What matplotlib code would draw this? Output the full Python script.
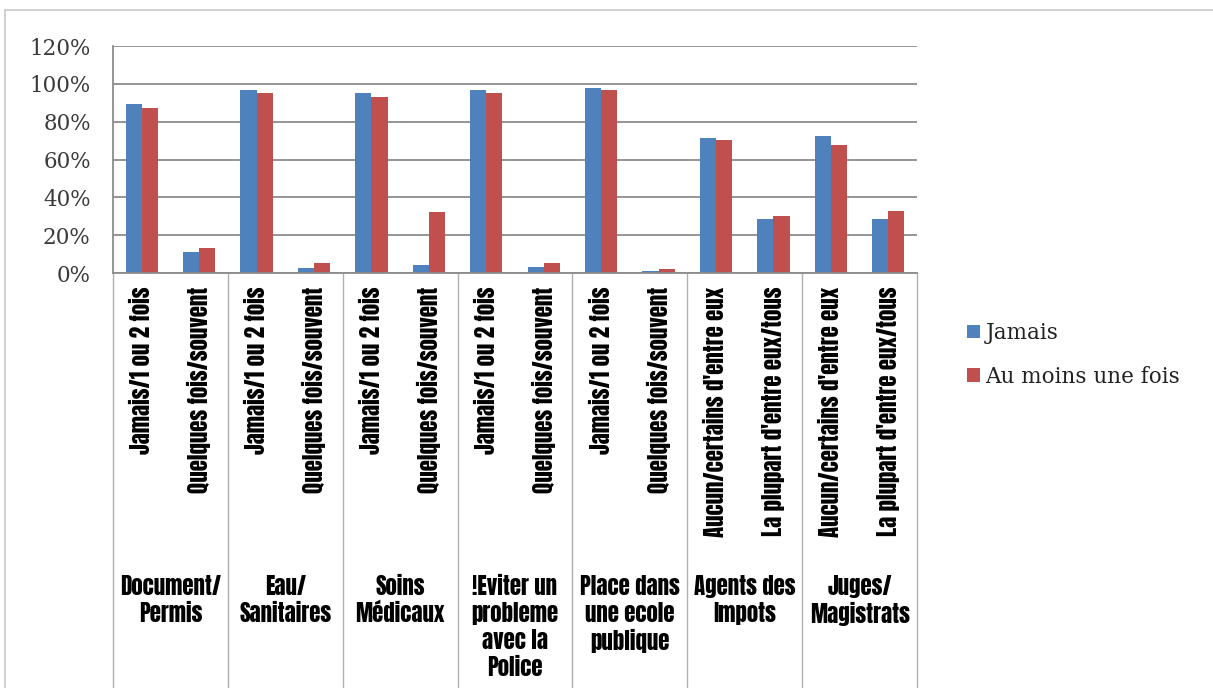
import matplotlib
matplotlib.use("Agg")
import matplotlib.pyplot as plt
import matplotlib.transforms as mtransforms
from matplotlib.patches import Rectangle
import numpy as np

groups = ["Document/\nPermis", "Eau/\nSanitaires", "Soins\nMédicaux",
          "!Eviter un\nprobleme\navec la\nPolice", "Place dans\nune ecole\npublique",
          "Agents des\nImpots", "Juges/\nMagistrats"]
categories = ["Jamais/1 ou 2 fois", "Quelques fois/souvent",
              "Jamais/1 ou 2 fois", "Quelques fois/souvent",
              "Jamais/1 ou 2 fois", "Quelques fois/souvent",
              "Jamais/1 ou 2 fois", "Quelques fois/souvent",
              "Jamais/1 ou 2 fois", "Quelques fois/souvent",
              "Aucun/certains d'entre eux", "La plupart d'entre eux/tous",
              "Aucun/certains d'entre eux", "La plupart d'entre eux/tous"]
jamais = [0.895, 0.11, 0.967, 0.028, 0.954, 0.04, 0.97, 0.033, 0.98, 0.012,
          0.716, 0.283, 0.725, 0.283]
au_moins = [0.87, 0.13, 0.95, 0.055, 0.93, 0.32, 0.95, 0.055, 0.97, 0.02,
            0.704, 0.302, 0.677, 0.328]
yticks = [0, 0.2, 0.4, 0.6, 0.8, 1.0, 1.2]
ytick_labels = ["0%", "20%", "40%", "60%", "80%", "100%", "120%"]
series_names = ["Jamais", "Au moins une fois"]

W, H = 1213, 688
fig = plt.figure(figsize=(W / 100, H / 100), dpi=100)
fig.patch.set_facecolor("white")

serif = ["DejaVu Serif", "Liberation Serif"]
heavy = ["Anton", "Oswald", "Roboto Condensed", "DejaVu Sans"]

# outer frame
fig.add_artist(Rectangle((5 / W, -0.1), 1.2, (H - 10) / H + 0.1, transform=fig.transFigure,
                         fill=False, edgecolor="#c8c8c8", linewidth=1.2))

ax = fig.add_axes([113 / W, (H - 273) / H, (917 - 113) / W, (273 - 46) / H])

x = np.arange(len(categories))
bw = 0.28
b1 = ax.bar(x - bw / 2, jamais, bw, color="#4F81BD", label=series_names[0])
b2 = ax.bar(x + bw / 2, au_moins, bw, color="#C0504D", label=series_names[1])

ax.set_xlim(-0.5, len(categories) - 0.5)
ax.set_ylim(0, 1.2)
ax.set_yticks(yticks)
ax.set_yticklabels(ytick_labels, family=serif, fontsize=15.5, color="#3a3a3a")
ax.tick_params(axis="y", length=0, pad=16)
ax.set_xticks([])
ax.yaxis.grid(True, color="#8c8c8c", linewidth=1.3)
ax.set_axisbelow(True)
for s in ["top", "right"]:
    ax.spines[s].set_visible(False)
for s in ["left", "bottom"]:
    ax.spines[s].set_color("#8c8c8c")
    ax.spines[s].set_linewidth(1.3)

trans = mtransforms.blended_transform_factory(ax.transData, ax.transAxes)
axh = 273 - 46
for i, c in enumerate(categories):
    ax.text(i, -14 / axh, c, rotation=90, ha="center", va="top", transform=trans,
            fontsize=16.5, family=heavy, color="black")
for g, name in enumerate(groups):
    ax.text(2 * g + 0.5, -(575 - 273) / axh, name, ha="center", va="top", transform=trans,
            fontsize=16.5, family=heavy, color="black", linespacing=1.2,
            multialignment="center")
for k in range(len(groups) + 1):
    ax.plot([2 * k - 0.5, 2 * k - 0.5], [0, -(H + 5 - 273) / axh], transform=trans,
            color="#b0b0b0", linewidth=1.0, clip_on=False)

leg = fig.legend(handles=[b1, b2], labels=series_names, loc="center left",
                 bbox_to_anchor=(967 / W, 1 - 355 / H), frameon=False,
                 prop={"family": serif, "size": 15.5},
                 handlelength=0.6, handleheight=0.6, handletextpad=0.25, labelspacing=1.0,
                 borderpad=0, borderaxespad=0)
for t in leg.get_texts():
    t.set_color("#222222")

fig.savefig("out.png", dpi=100, facecolor="white")
